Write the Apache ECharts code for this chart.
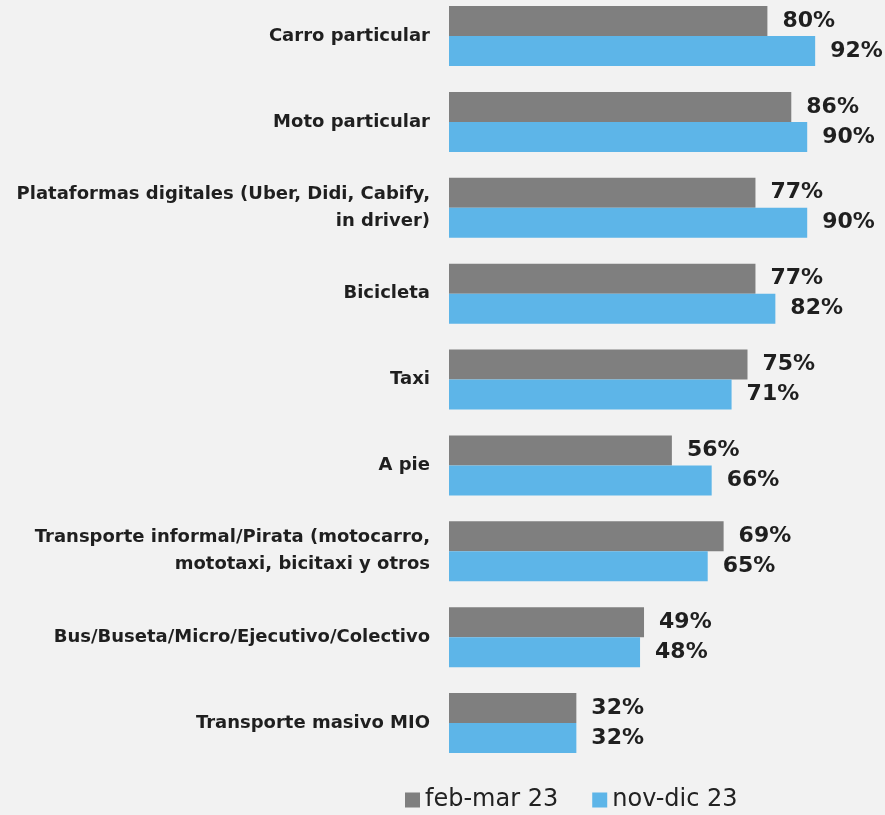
<!DOCTYPE html>
<html><head><meta charset="utf-8">
<script src="https://cdn.jsdelivr.net/npm/echarts@6/dist/echarts.min.js"></script>
<style>html,body{margin:0;padding:0;background:#f2f2f2}#c{width:885px;height:815px}</style>
</head><body><div id="c"></div>
<script>
const categories = ["Carro particular","Moto particular","Plataformas digitales (Uber, Didi, Cabify,\nin driver)","Bicicleta","Taxi","A pie","Transporte informal/Pirata (motocarro,\nmototaxi, bicitaxi y otros","Bus/Buseta/Micro/Ejecutivo/Colectivo","Transporte masivo MIO"];
const seriesNames = ["feb-mar 23","nov-dic 23"];
const febMar = [80,86,77,77,75,56,69,49,32];
const novDic = [92,90,90,82,71,66,65,48,32];
const chart = echarts.init(document.getElementById('c'));
const lbl = {show:true,position:'right',distance:15,formatter:'{c}%',fontSize:22,fontWeight:'bold',color:'#1f1f1f',fontFamily:'DejaVu Sans'};
chart.setOption({
  backgroundColor:'#f2f2f2',
  animation:false,
  grid:{left:449,top:36,height:687,width:398},
  legend:{bottom:-2,left:400,itemWidth:15,itemHeight:15,itemGap:34,icon:'rect',
    textStyle:{fontSize:24,color:'#222',fontFamily:'DejaVu Sans'},data:seriesNames},
  xAxis:{type:'value',min:0,max:100,show:false},
  yAxis:{type:'category',inverse:true,boundaryGap:false,data:categories,axisLine:{show:false},axisTick:{show:false},
    axisLabel:{margin:19,fontSize:18,fontWeight:'bold',color:'#1f1f1f',fontFamily:'DejaVu Sans',lineHeight:27,align:'right'}},
  series:[
    {name:seriesNames[0],type:'bar',data:febMar,barWidth:30,barGap:'0%',itemStyle:{color:'#7f7f7f'},label:lbl},
    {name:seriesNames[1],type:'bar',data:novDic,barWidth:30,barGap:'0%',itemStyle:{color:'#5db5e8'},label:lbl}
  ]
});
</script></body></html>
